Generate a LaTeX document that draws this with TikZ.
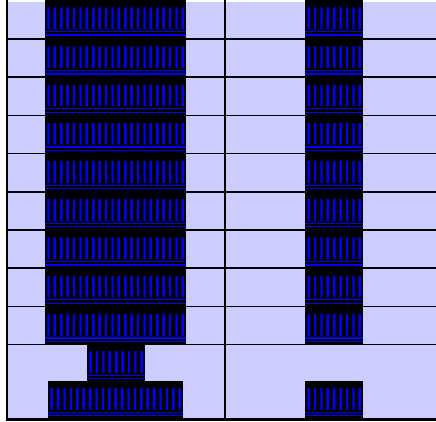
\documentclass[tikz,border=0pt]{standalone}
\definecolor{cellfill}{RGB}{204,204,255}
\definecolor{barblue}{RGB}{0,0,255}
\definecolor{bardark}{RGB}{0,0,150}
\tikzset{
  gridline/.style={black, line width=1.7pt},
  barhalo/.style={bardark, line width=2.8pt},
  barcore/.style={barblue, line width=1.8pt},
  railline/.style={barblue, line width=1.2pt},
}
% #1 = left x, #2 = top y, #3 = number of bars, #4 = height
\newcommand{\blockunit}[4]{%
  \fill[black] (#1,#2) rectangle ++({6.4*#3},#4);
  \foreach \k in {1,...,#3}{%
    \draw[barhalo] ({#1+3.4+6.4*(\k-1)},{#2+7.3}) -- ++(0,21.9);
    \draw[barcore] ({#1+3.4+6.4*(\k-1)},{#2+7.5}) -- ++(0,21.5);
  }
  \draw[railline] (#1,{#2+31.5}) -- ++({6.4*#3},0);
  \draw[railline] (#1,{#2+34.9}) -- ++({6.4*#3},0);
}
\begin{document}
\begin{tikzpicture}[x=1pt,y=-1pt]
  \useasboundingbox (0,0) rectangle (436,421);
  \clip (0,0) rectangle (436,421);
  \fill[white] (0,0) rectangle (436,421);
  \fill[cellfill] (7.7,1.7) rectangle (436,418);
  % regular rows
  \foreach \r in {0,...,8}{%
    \pgfmathsetmacro{\ytop}{\r==0 ? 0 : 0.8+38.2*\r}
    \pgfmathsetmacro{\hh}{\r==0 ? 39 : 38.2}
    \blockunit{45}{\ytop}{22}{\hh}
    \blockunit{305.2}{\ytop}{9}{\hh}
  }
  % bottom cell blocks
  \blockunit{87.2}{343.8}{9}{37}
  \blockunit{48.3}{380.7}{21}{37.3}
  \blockunit{305.2}{380.7}{9}{37.3}
  % grid lines
  \foreach \r in {1,...,9}{%
    \draw[gridline] (6,{0.8+38.2*\r}) -- (436,{0.8+38.2*\r});
  }
  \draw[gridline] (6.85,0) -- (6.85,418);
  \draw[gridline] (224.85,0) -- (224.85,418);
  \fill[black] (6,418) rectangle (436,421);
\end{tikzpicture}
\end{document}
